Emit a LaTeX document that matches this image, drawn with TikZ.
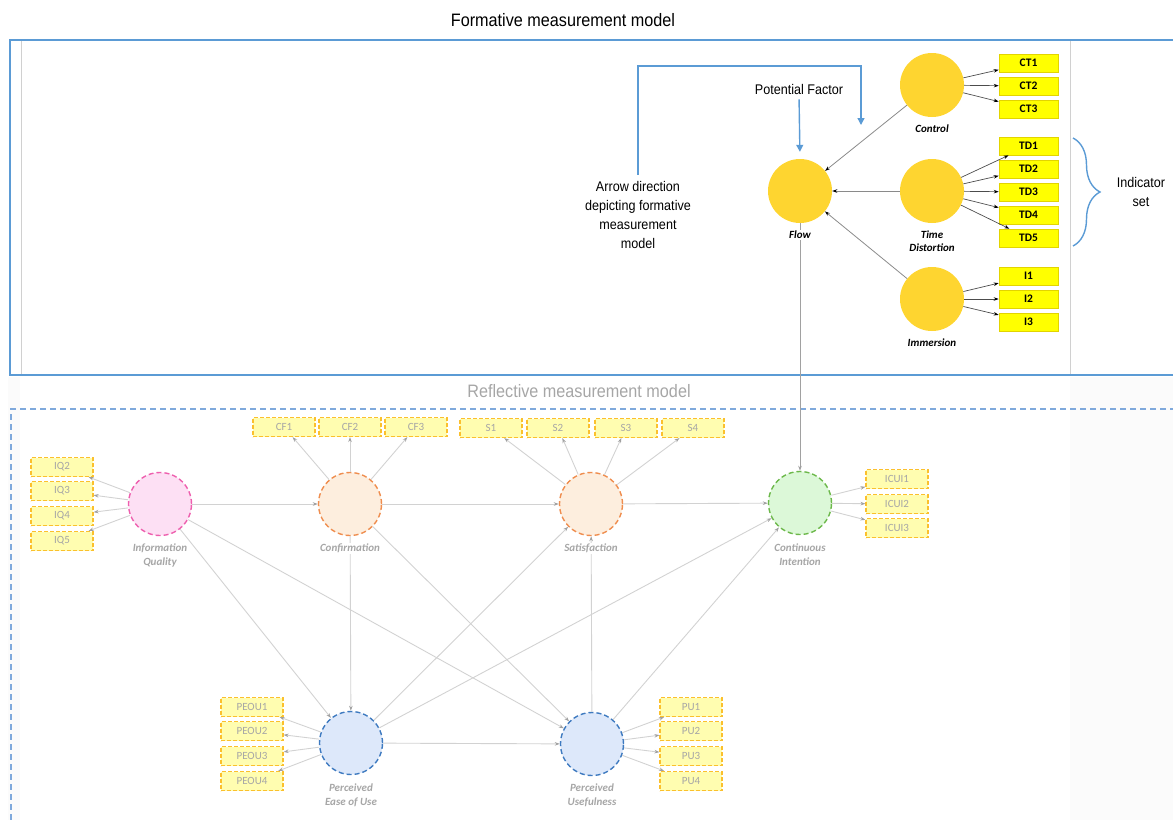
\documentclass[tikz,border=0pt]{standalone}
\usepackage{fontspec}
\setmainfont{Liberation Sans}
\newfontfamily\narrowsans[FakeStretch=0.9]{Liberation Sans}
\newfontfamily\calibri{Carlito}
\usetikzlibrary{arrows.meta,decorations.pathreplacing}

\definecolor{frameblue}{HTML}{5B9BD5}
\definecolor{dashblue}{HTML}{7FA9DC}
\definecolor{canvasgrey}{HTML}{FBFBFB}
\definecolor{rulegrey}{HTML}{D0D0D0}
\definecolor{fyellow}{HTML}{FED530}
\definecolor{boxyellow}{HTML}{FFFF00}
\definecolor{boxedge}{HTML}{E2D400}
\definecolor{paleyellow}{HTML}{FFFDB0}
\definecolor{goldedge}{HTML}{FBC02D}
\definecolor{pinkfill}{HTML}{FDE0F4}
\definecolor{pinkline}{HTML}{EE5FAE}
\definecolor{peachfill}{HTML}{FDEEDE}
\definecolor{orangeline}{HTML}{EF8D4E}
\definecolor{greenfill}{HTML}{DCF8D8}
\definecolor{greenline}{HTML}{6CB84A}
\definecolor{bluefill}{HTML}{DDE8FA}
\definecolor{blueline}{HTML}{3E7AC0}
\definecolor{labelgrey}{HTML}{A6A6A6}
\definecolor{linkgrey}{HTML}{D2D2D2}
\definecolor{tipgrey}{HTML}{A0A0A0}
\definecolor{formgrey}{HTML}{8A8A8A}

\begin{document}
\begin{tikzpicture}[x=1pt,y=-1pt,
  % formative part
  fcirc/.style={circle,fill=fyellow,minimum size=64pt,inner sep=0pt},
  flbl/.style={font=\calibri\bfseries\itshape\fontsize{11}{13}\selectfont,align=center,fill=white,inner sep=1pt},
  fbox/.style={draw=boxedge,fill=boxyellow,line width=0.6pt,minimum width=59pt,minimum height=18pt,inner sep=0pt,
    font=\calibri\bfseries\fontsize{11.5}{13}\selectfont},
  ftip/.style={draw=formgrey,line width=0.8pt,-{Stealth[length=5pt,width=3.5pt,color=black]}},
  itip/.style={draw=black!70,line width=0.7pt,-{Stealth[length=5pt,width=3.5pt,color=black]}},
  % reflective part
  rcirc/.style={circle,minimum size=63pt,inner sep=0pt,line width=1.4pt,dash pattern=on 5pt off 3pt},
  rlbl/.style={font=\calibri\bfseries\itshape\fontsize{11}{14}\selectfont,text=labelgrey,align=center,fill=white,inner sep=1pt},
  rbox/.style={draw=goldedge,fill=paleyellow,line width=1.1pt,dash pattern=on 4pt off 2pt,minimum width=62pt,minimum height=19pt,
    inner sep=0pt,font=\calibri\fontsize{11}{13}\selectfont,text=labelgrey},
  rtip/.style={draw=linkgrey,line width=0.9pt,-{Stealth[length=5pt,width=3.5pt,color=tipgrey]}},
  % annotations
  annot/.style={font=\narrowsans\fontsize{14}{18.7}\selectfont,align=center,inner sep=1pt},
  bluearrow/.style={draw=frameblue,line width=1.4pt,-{Triangle[length=7pt,width=7pt]}},
  bracestyle/.style={draw=frameblue,line width=1.4pt,decorate,decoration={brace,amplitude=27pt}}
]
\useasboundingbox (0,0) rectangle (1173,820);

% canvas strips beside the page
\fill[canvasgrey] (8,377) rectangle (20,820);
\fill[canvasgrey] (1070,377) rectangle (1173,820);

% frames
\draw[frameblue,line width=1.5pt] (1174,40) -- (10,40) -- (10,375) -- (1174,375);
\draw[rulegrey,line width=0.8pt] (21,41) -- (21,374);
\draw[rulegrey,line width=0.8pt] (1070,41) -- (1070,374);
\draw[dashblue,line width=1.3pt,dash pattern=on 6pt off 4pt] (1176,409) -- (11,409) -- (11,824);

% titles
\node[font=\narrowsans\fontsize{18}{22}\selectfont] (ftitle) at (563,20) {Formative measurement model};
\node[font=\narrowsans\fontsize{18}{22}\selectfont,text=labelgrey] (rtitle) at (579,391) {Reflective measurement model};

% ---------- formative measurement model ----------
\node[fcirc] (flow) at (800,191) {};
\node[fcirc] (control) at (932,85) {};
\node[fcirc] (timedist) at (932,191) {};
\node[fcirc] (immersion) at (932,299) {};

\foreach \n/\y in {CT1/63,CT2/86,CT3/109,TD1/146,TD2/169,TD3/192,TD4/215,TD5/238,I1/276,I2/299,I3/322}
  \node[fbox] (\n) at (1028.5,\y) {\n};

\foreach \n in {CT1,CT2,CT3} \draw[itip] (control) -- (\n);
\foreach \n in {TD1,TD2,TD3,TD4,TD5} \draw[itip] (timedist) -- (\n);
\foreach \n in {I1,I2,I3} \draw[itip] (immersion) -- (\n);

\draw[ftip] (control) -- (flow);
\draw[ftip] (timedist) -- (flow);
\draw[ftip] (immersion) -- (flow);

% ---------- reflective measurement model ----------
\node[rcirc,fill=pinkfill,draw=pinkline] (iq) at (160,504) {};
\node[rcirc,fill=peachfill,draw=orangeline] (conf) at (350,504) {};
\node[rcirc,fill=peachfill,draw=orangeline] (sat) at (591,504) {};
\node[rcirc,fill=greenfill,draw=greenline] (ci) at (800,503) {};
\node[rcirc,fill=bluefill,draw=blueline] (peou) at (351,743) {};
\node[rcirc,fill=bluefill,draw=blueline] (pu) at (592,744) {};

% link from Flow into the reflective model
\draw[rtip,draw=formgrey!80] (flow) -- (ci);

% structural paths
\draw[rtip] (iq) -- (conf);
\draw[rtip] (conf) -- (sat);
\draw[rtip] (sat) -- (ci);
\draw[rtip] (iq) -- (peou);
\draw[rtip] (iq) -- (pu);
\draw[rtip] (conf) -- (peou);
\draw[rtip] (conf) -- (pu);
\draw[rtip] (peou) -- (sat);
\draw[rtip] (peou) -- (ci);
\draw[rtip] (peou) -- (pu);
\draw[rtip] (pu) -- (sat);
\draw[rtip] (pu) -- (ci);

% indicators
\foreach \n/\y in {IQ2/467,IQ3/491,IQ4/516,IQ5/541}
  {\node[rbox] (\n) at (62,\y) {\n}; \draw[rtip] (iq) -- (\n);}
\foreach \n/\x in {CF1/284,CF2/350,CF3/416}
  {\node[rbox] (\n) at (\x,427) {\n}; \draw[rtip] (conf) -- (\n);}
\foreach \n/\x in {S1/491,S2/558,S3/626,S4/693}
  {\node[rbox] (\n) at (\x,428) {\n}; \draw[rtip] (sat) -- (\n);}
\foreach \n/\y in {ICUI1/479,ICUI2/504,ICUI3/528}
  {\node[rbox] (\n) at (897,\y) {\n}; \draw[rtip] (ci) -- (\n);}
\foreach \n/\y in {PEOU1/707,PEOU2/731,PEOU3/756,PEOU4/781}
  {\node[rbox] (\n) at (252,\y) {\n}; \draw[rtip] (peou) -- (\n);}
\foreach \n/\y in {PU1/707,PU2/731,PU3/756,PU4/781}
  {\node[rbox] (\n) at (691,\y) {\n}; \draw[rtip] (pu) -- (\n);}

% construct labels
\node[flbl] (flowlbl) at (800,235) {Flow};
\node[flbl] (controllbl) at (932,129) {Control};
\node[flbl] (timelbl) at (932,241.5) {Time\\Distortion};
\node[flbl] (immlbl) at (932,343) {Immersion};

\node[rlbl] (iqlbl) at (160,555) {Information\\Quality};
\node[rlbl] (conflbl) at (350,548) {Confirmation};
\node[rlbl] (satlbl) at (591,548) {Satisfaction};
\node[rlbl] (cilbl) at (800,555) {Continuous\\Intention};
\node[rlbl] (peoulbl) at (351,795) {Perceived\\Ease of Use};
\node[rlbl] (pulbl) at (592,795) {Perceived\\Usefulness};

% ---------- annotations ----------
\node[annot] (potential) at (799,89) {Potential Factor};
\draw[bluearrow,shorten <=4pt,shorten >=7pt] (potential.south) -- (flow.north);

\node[annot] (arrowtxt) at (638,215) {Arrow direction\\depicting formative\\measurement\\model};
\coordinate (bendtop) at (861,66);
\coordinate (bendtip) at (861,125);
\draw[bluearrow,shorten <=6pt] (arrowtxt.north) |- (bendtop) -- (bendtip);

\coordinate (bracetop) at (1073,138);
\coordinate (bracebot) at (1073,246);
\draw[bracestyle] (bracetop) -- (bracebot);
\node[annot] (indset) at (1141,192) {Indicator\\set};

\end{tikzpicture}
\end{document}
